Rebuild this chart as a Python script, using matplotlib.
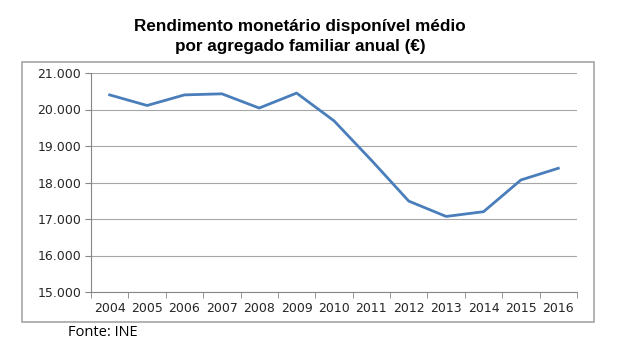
import matplotlib
matplotlib.use("Agg")
import matplotlib.pyplot as plt
from matplotlib.patches import Rectangle

# Values
years = ["2004", "2005", "2006", "2007", "2008", "2009", "2010",
         "2011", "2012", "2013", "2014", "2015", "2016"]
income = [20400, 20110, 20400, 20430, 20040, 20450, 19690,
          18610, 17490, 17070, 17200, 18070, 18390]
y_ticks = [15000, 16000, 17000, 18000, 19000, 20000, 21000]
y_labels = ["15.000", "16.000", "17.000", "18.000", "19.000", "20.000", "21.000"]

fig = plt.figure(figsize=(6.24, 3.59), dpi=100)

# outer chart frame (Excel style)
fig.patches.append(Rectangle((22 / 624, 1 - 322 / 359), (594 - 22) / 624, (322 - 62) / 359,
                             transform=fig.transFigure, fill=False,
                             edgecolor="#a6a6a6", lw=1.2))

ax = fig.add_axes([91 / 624, 1 - 292 / 359, (577 - 91) / 624, (292 - 73) / 359])
x = list(range(len(years)))
ax.plot(x, income, color="#4a7ebb", lw=2)

ax.set_xlim(-0.5, len(years) - 0.5)
ax.set_ylim(15000, 21000)
ax.set_yticks(y_ticks)
ax.set_yticklabels(y_labels, fontsize=9, color="#262626", family="DejaVu Sans")
ax.set_xticks(x)
ax.set_xticklabels(years, fontsize=9, color="#262626", family="DejaVu Sans")
ax.set_xticks([i - 0.5 for i in range(len(years) + 1)], minor=True)
ax.tick_params(axis="x", which="major", length=0, pad=7)
ax.tick_params(axis="x", which="minor", length=4, color="#868686")
ax.tick_params(axis="y", length=4, color="#868686", pad=3)

ax.grid(axis="y", color="#a6a6a6", lw=0.8)
ax.set_axisbelow(True)
for side in ["top", "right"]:
    ax.spines[side].set_visible(False)
for side in ["left", "bottom"]:
    ax.spines[side].set_color("#868686")

fig.text(300 / 624, 1 - 36.5 / 359,
         "Rendimento monetário disponível médio\npor agregado familiar anual (€)",
         ha="center", va="center", fontsize=12.3, fontweight="bold",
         family="Liberation Sans", linespacing=1.45)
fig.text(68 / 624, 1 - 333 / 359, "Fonte: INE", ha="left", va="center",
         fontsize=10.5, family="Open Sans")

fig.savefig("out.png", dpi=100, facecolor="white")
